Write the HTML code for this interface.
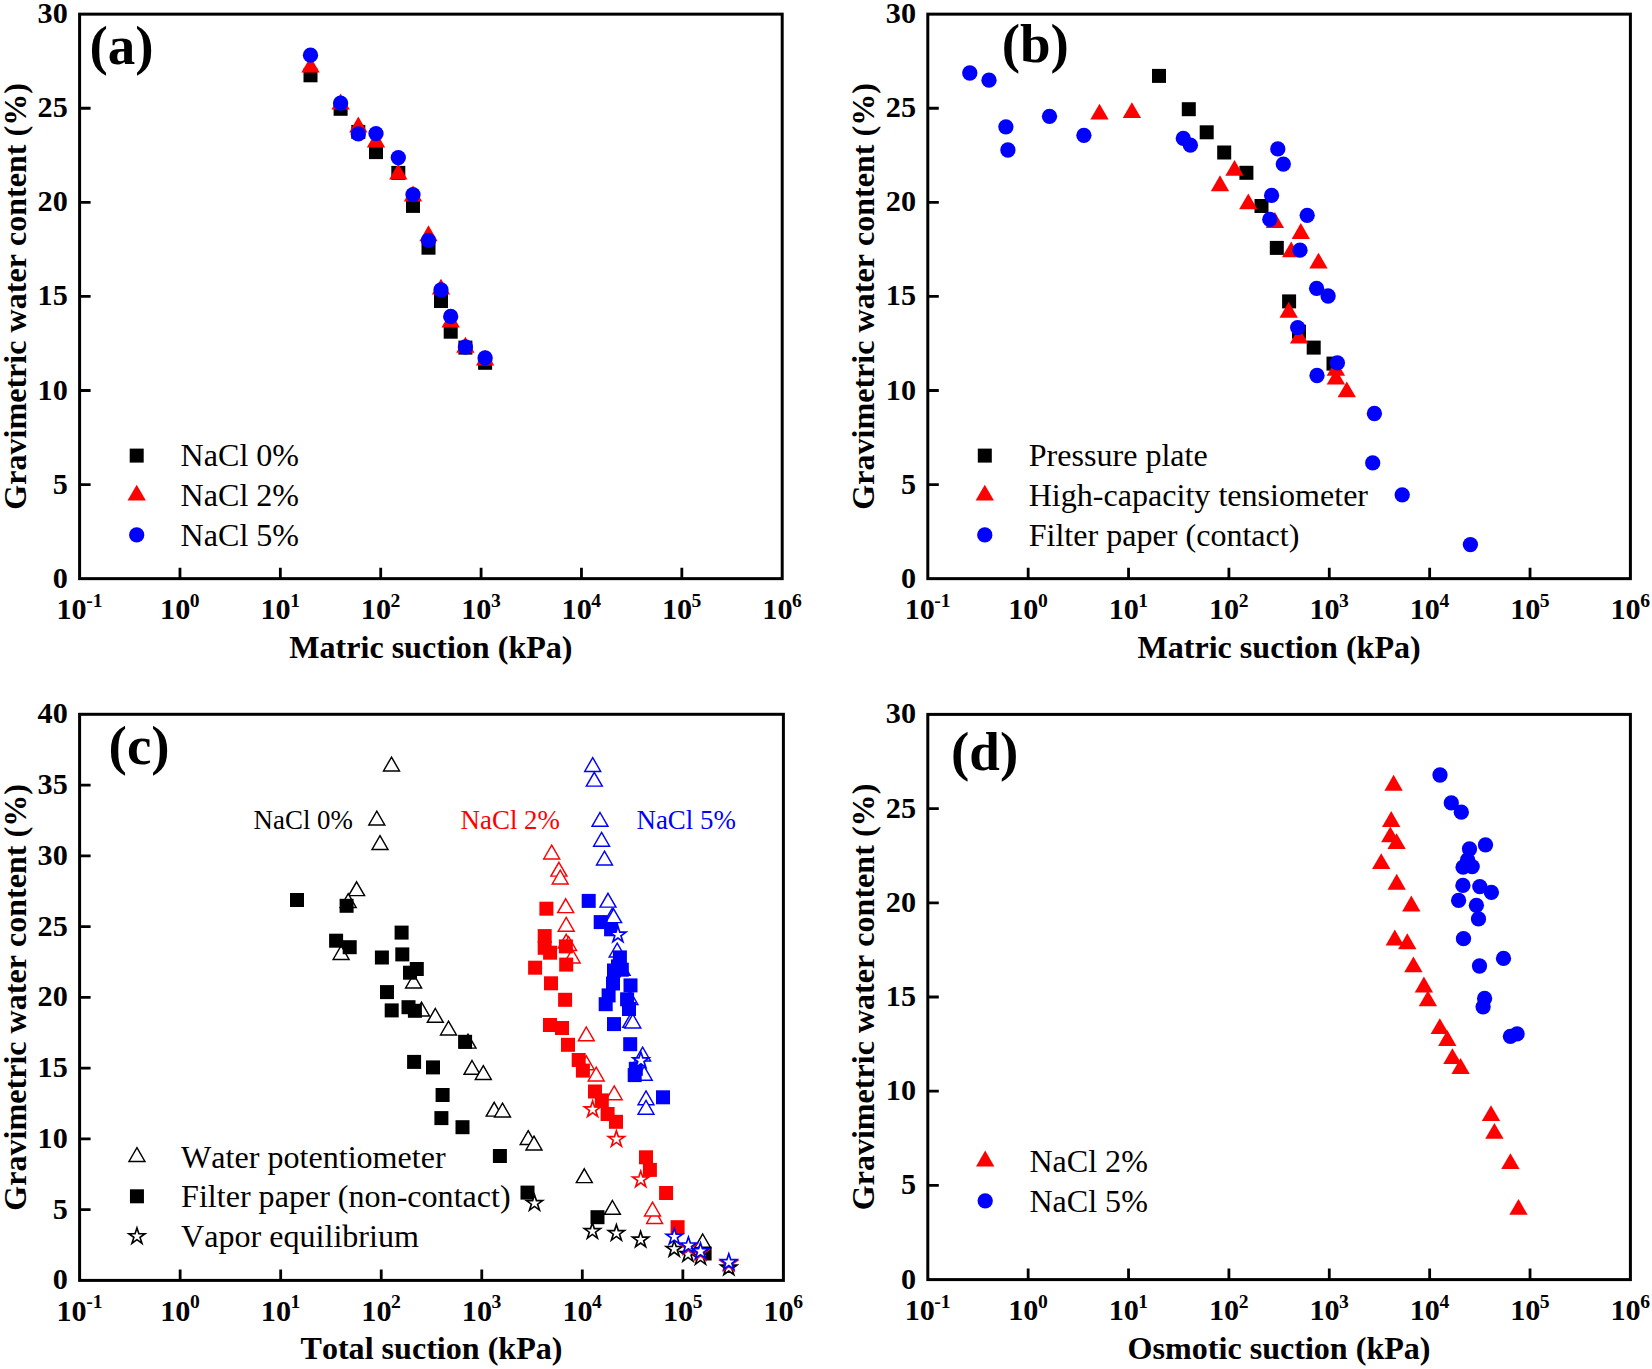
<!DOCTYPE html>
<html lang="en"><head><meta charset="utf-8"><title>Soil water retention curves</title>
<style>html,body{margin:0;padding:0;background:#fff}svg{display:block}text{font-family:'Liberation Serif', 'Times New Roman', serif;font-kerning:none}</style>
</head><body>
<svg width="1652" height="1369" viewBox="0 0 1652 1369">
<rect width="1652" height="1369" fill="#fff"/>
<g id="panel-a">
<rect x="303.5" y="68.3" width="14" height="14" fill="#000"/>
<rect x="333.6" y="101.8" width="14" height="14" fill="#000"/>
<rect x="351.3" y="124.9" width="14" height="14" fill="#000"/>
<rect x="369" y="145.1" width="14" height="14" fill="#000"/>
<rect x="391.3" y="165.9" width="14" height="14" fill="#000"/>
<rect x="406" y="198.9" width="14" height="14" fill="#000"/>
<rect x="421.5" y="240.7" width="14" height="14" fill="#000"/>
<rect x="434" y="294" width="14" height="14" fill="#000"/>
<rect x="443.7" y="324.7" width="14" height="14" fill="#000"/>
<rect x="458.4" y="340.6" width="14" height="14" fill="#000"/>
<rect x="478.1" y="355.8" width="14" height="14" fill="#000"/>
<polygon points="310.5,56.7 319.68,72.6 301.32,72.6" fill="#f00"/>
<polygon points="340.6,93.6 349.78,109.5 331.42,109.5" fill="#f00"/>
<polygon points="358.3,116.5 367.48,132.4 349.12,132.4" fill="#f00"/>
<polygon points="376,131.6 385.18,147.5 366.82,147.5" fill="#f00"/>
<polygon points="398.3,163.5 407.48,179.4 389.12,179.4" fill="#f00"/>
<polygon points="413,185.5 422.18,201.4 403.82,201.4" fill="#f00"/>
<polygon points="428.5,225.3 437.68,241.2 419.32,241.2" fill="#f00"/>
<polygon points="441,278.7 450.18,294.6 431.82,294.6" fill="#f00"/>
<polygon points="450.7,311.5 459.88,327.4 441.52,327.4" fill="#f00"/>
<polygon points="465.4,336.8 474.58,352.7 456.22,352.7" fill="#f00"/>
<polygon points="485.1,349.7 494.28,365.6 475.92,365.6" fill="#f00"/>
<circle cx="310.5" cy="55.15" r="7.65" fill="#00f"/>
<circle cx="340.6" cy="103.1" r="7.65" fill="#00f"/>
<circle cx="358.3" cy="133.9" r="7.65" fill="#00f"/>
<circle cx="376" cy="133.6" r="7.65" fill="#00f"/>
<circle cx="398.3" cy="157.6" r="7.65" fill="#00f"/>
<circle cx="413" cy="194.6" r="7.65" fill="#00f"/>
<circle cx="428.5" cy="240.4" r="7.65" fill="#00f"/>
<circle cx="441" cy="290" r="7.65" fill="#00f"/>
<circle cx="450.7" cy="316.5" r="7.65" fill="#00f"/>
<circle cx="465.4" cy="347" r="7.65" fill="#00f"/>
<circle cx="485.1" cy="357.9" r="7.65" fill="#00f"/>
<path d="M179.97 578.65V567.65M280.34 578.65V567.65M380.71 578.65V567.65M481.09 578.65V567.65M581.46 578.65V567.65M681.83 578.65V567.65M79.6 484.57H90.6M79.6 390.48H90.6M79.6 296.4H90.6M79.6 202.32H90.6M79.6 108.23H90.6" stroke="#000" stroke-width="2.8" fill="none"/>
<rect x="79.6" y="14.15" width="702.6" height="564.5" fill="none" stroke="#000" stroke-width="3"/>
<text x="67.8" y="587.7" font-size="30.2" font-weight="bold" text-anchor="end">0</text>
<text x="67.8" y="493.62" font-size="30.2" font-weight="bold" text-anchor="end">5</text>
<text x="67.8" y="399.53" font-size="30.2" font-weight="bold" text-anchor="end">10</text>
<text x="67.8" y="305.45" font-size="30.2" font-weight="bold" text-anchor="end">15</text>
<text x="67.8" y="211.37" font-size="30.2" font-weight="bold" text-anchor="end">20</text>
<text x="67.8" y="117.28" font-size="30.2" font-weight="bold" text-anchor="end">25</text>
<text x="67.8" y="23.2" font-size="30.2" font-weight="bold" text-anchor="end">30</text>
<text x="56.44" y="618.95" font-size="30.2" font-weight="bold">10<tspan font-size="19.6" dx="-0.5" dy="-12.3">-1</tspan></text>
<text x="160.07" y="618.95" font-size="30.2" font-weight="bold">10<tspan font-size="19.6" dx="-0.5" dy="-12.3">0</tspan></text>
<text x="260.44" y="618.95" font-size="30.2" font-weight="bold">10<tspan font-size="19.6" dx="-0.5" dy="-12.3">1</tspan></text>
<text x="360.81" y="618.95" font-size="30.2" font-weight="bold">10<tspan font-size="19.6" dx="-0.5" dy="-12.3">2</tspan></text>
<text x="461.19" y="618.95" font-size="30.2" font-weight="bold">10<tspan font-size="19.6" dx="-0.5" dy="-12.3">3</tspan></text>
<text x="561.56" y="618.95" font-size="30.2" font-weight="bold">10<tspan font-size="19.6" dx="-0.5" dy="-12.3">4</tspan></text>
<text x="661.93" y="618.95" font-size="30.2" font-weight="bold">10<tspan font-size="19.6" dx="-0.5" dy="-12.3">5</tspan></text>
<text x="762.3" y="618.95" font-size="30.2" font-weight="bold">10<tspan font-size="19.6" dx="-0.5" dy="-12.3">6</tspan></text>
<text x="430.9" y="657.55" font-size="32.1" font-weight="bold" text-anchor="middle">Matric suction (kPa)</text>
<text transform="translate(25.5 296.4) rotate(-90)" font-size="32.1" font-weight="bold" text-anchor="middle">Gravimetric water content (%)</text>
<text x="89.4" y="64.15" font-size="55" font-weight="bold">(a)</text>
<rect x="129.7" y="448.6" width="14" height="14" fill="#000"/>
<polygon points="136.7,484.7 145.88,500.6 127.52,500.6" fill="#f00"/>
<circle cx="136.7" cy="534.9" r="7.65" fill="#00f"/>
<text x="180.6" y="466.35" font-size="32.1">NaCl 0%</text>
<text x="180.6" y="506.05" font-size="32.1">NaCl 2%</text>
<text x="180.6" y="545.65" font-size="32.1">NaCl 5%</text>
</g>
<g id="panel-b">
<rect x="1152" y="68.9" width="14" height="14" fill="#000"/>
<rect x="1181.8" y="102.2" width="14" height="14" fill="#000"/>
<rect x="1199.7" y="125.3" width="14" height="14" fill="#000"/>
<rect x="1217.2" y="145.5" width="14" height="14" fill="#000"/>
<rect x="1239.4" y="165.8" width="14" height="14" fill="#000"/>
<rect x="1254.5" y="199" width="14" height="14" fill="#000"/>
<rect x="1269.8" y="240.9" width="14" height="14" fill="#000"/>
<rect x="1282.1" y="294.4" width="14" height="14" fill="#000"/>
<rect x="1292" y="324.7" width="14" height="14" fill="#000"/>
<rect x="1306.7" y="340.6" width="14" height="14" fill="#000"/>
<rect x="1326.5" y="356.6" width="14" height="14" fill="#000"/>
<polygon points="1099.5,103.7 1108.68,119.6 1090.32,119.6" fill="#f00"/>
<polygon points="1131.9,102.2 1141.08,118.1 1122.72,118.1" fill="#f00"/>
<polygon points="1234.5,159.9 1243.68,175.8 1225.32,175.8" fill="#f00"/>
<polygon points="1220,175.3 1229.18,191.2 1210.82,191.2" fill="#f00"/>
<polygon points="1248.3,193.4 1257.48,209.3 1239.12,209.3" fill="#f00"/>
<polygon points="1274.9,212.1 1284.08,228 1265.72,228" fill="#f00"/>
<polygon points="1300.8,223.1 1309.98,239 1291.62,239" fill="#f00"/>
<polygon points="1291.2,241.4 1300.38,257.3 1282.02,257.3" fill="#f00"/>
<polygon points="1318.5,252.7 1327.68,268.6 1309.32,268.6" fill="#f00"/>
<polygon points="1288.7,301.8 1297.88,317.7 1279.52,317.7" fill="#f00"/>
<polygon points="1299.1,327.7 1308.28,343.6 1289.92,343.6" fill="#f00"/>
<polygon points="1335.9,359.9 1345.08,375.8 1326.72,375.8" fill="#f00"/>
<polygon points="1335.9,368.7 1345.08,384.6 1326.72,384.6" fill="#f00"/>
<polygon points="1346.8,381.4 1355.98,397.3 1337.62,397.3" fill="#f00"/>
<circle cx="969.8" cy="73" r="7.65" fill="#00f"/>
<circle cx="989" cy="80.2" r="7.65" fill="#00f"/>
<circle cx="1005.9" cy="126.8" r="7.65" fill="#00f"/>
<circle cx="1007.9" cy="150" r="7.65" fill="#00f"/>
<circle cx="1049.5" cy="116.3" r="7.65" fill="#00f"/>
<circle cx="1083.9" cy="135.3" r="7.65" fill="#00f"/>
<circle cx="1183.3" cy="138.4" r="7.65" fill="#00f"/>
<circle cx="1190.4" cy="145.2" r="7.65" fill="#00f"/>
<circle cx="1277.8" cy="148.9" r="7.65" fill="#00f"/>
<circle cx="1283.3" cy="164.1" r="7.65" fill="#00f"/>
<circle cx="1271.6" cy="195.4" r="7.65" fill="#00f"/>
<circle cx="1269.8" cy="219.4" r="7.65" fill="#00f"/>
<circle cx="1307.2" cy="215.3" r="7.65" fill="#00f"/>
<circle cx="1300" cy="250.2" r="7.65" fill="#00f"/>
<circle cx="1316.6" cy="288.3" r="7.65" fill="#00f"/>
<circle cx="1328.1" cy="296" r="7.65" fill="#00f"/>
<circle cx="1297.7" cy="327.6" r="7.65" fill="#00f"/>
<circle cx="1337.4" cy="362.8" r="7.65" fill="#00f"/>
<circle cx="1317" cy="375.5" r="7.65" fill="#00f"/>
<circle cx="1374.4" cy="413.5" r="7.65" fill="#00f"/>
<circle cx="1372.7" cy="462.9" r="7.65" fill="#00f"/>
<circle cx="1402.2" cy="494.8" r="7.65" fill="#00f"/>
<circle cx="1470.4" cy="544.6" r="7.65" fill="#00f"/>
<path d="M1028.17 578.65V567.65M1128.54 578.65V567.65M1228.91 578.65V567.65M1329.29 578.65V567.65M1429.66 578.65V567.65M1530.03 578.65V567.65M927.8 484.57H938.8M927.8 390.48H938.8M927.8 296.4H938.8M927.8 202.32H938.8M927.8 108.23H938.8" stroke="#000" stroke-width="2.8" fill="none"/>
<rect x="927.8" y="14.15" width="702.6" height="564.5" fill="none" stroke="#000" stroke-width="3"/>
<text x="916" y="587.7" font-size="30.2" font-weight="bold" text-anchor="end">0</text>
<text x="916" y="493.62" font-size="30.2" font-weight="bold" text-anchor="end">5</text>
<text x="916" y="399.53" font-size="30.2" font-weight="bold" text-anchor="end">10</text>
<text x="916" y="305.45" font-size="30.2" font-weight="bold" text-anchor="end">15</text>
<text x="916" y="211.37" font-size="30.2" font-weight="bold" text-anchor="end">20</text>
<text x="916" y="117.28" font-size="30.2" font-weight="bold" text-anchor="end">25</text>
<text x="916" y="23.2" font-size="30.2" font-weight="bold" text-anchor="end">30</text>
<text x="904.64" y="618.95" font-size="30.2" font-weight="bold">10<tspan font-size="19.6" dx="-0.5" dy="-12.3">-1</tspan></text>
<text x="1008.27" y="618.95" font-size="30.2" font-weight="bold">10<tspan font-size="19.6" dx="-0.5" dy="-12.3">0</tspan></text>
<text x="1108.64" y="618.95" font-size="30.2" font-weight="bold">10<tspan font-size="19.6" dx="-0.5" dy="-12.3">1</tspan></text>
<text x="1209.01" y="618.95" font-size="30.2" font-weight="bold">10<tspan font-size="19.6" dx="-0.5" dy="-12.3">2</tspan></text>
<text x="1309.39" y="618.95" font-size="30.2" font-weight="bold">10<tspan font-size="19.6" dx="-0.5" dy="-12.3">3</tspan></text>
<text x="1409.76" y="618.95" font-size="30.2" font-weight="bold">10<tspan font-size="19.6" dx="-0.5" dy="-12.3">4</tspan></text>
<text x="1510.13" y="618.95" font-size="30.2" font-weight="bold">10<tspan font-size="19.6" dx="-0.5" dy="-12.3">5</tspan></text>
<text x="1610.5" y="618.95" font-size="30.2" font-weight="bold">10<tspan font-size="19.6" dx="-0.5" dy="-12.3">6</tspan></text>
<text x="1279.1" y="657.55" font-size="32.1" font-weight="bold" text-anchor="middle">Matric suction (kPa)</text>
<text transform="translate(873.7 296.4) rotate(-90)" font-size="32.1" font-weight="bold" text-anchor="middle">Gravimetric water content (%)</text>
<text x="1001.7" y="62.05" font-size="55" font-weight="bold">(b)</text>
<rect x="977.8" y="448.6" width="14" height="14" fill="#000"/>
<polygon points="984.8,484.7 993.98,500.6 975.62,500.6" fill="#f00"/>
<circle cx="984.8" cy="534.9" r="7.65" fill="#00f"/>
<text x="1028.7" y="466.35" font-size="32.1">Pressure plate</text>
<text x="1028.7" y="506.05" font-size="32.1">High-capacity tensiometer</text>
<text x="1028.7" y="545.65" font-size="32.1">Filter paper (contact)</text>
</g>
<g id="panel-c">
<polygon points="391.5,757.1 399.47,770.9 383.53,770.9" fill="#fff" stroke="#000" stroke-width="1.45" stroke-linejoin="miter"/>
<polygon points="376.8,811.2 384.77,825 368.83,825" fill="#fff" stroke="#000" stroke-width="1.45" stroke-linejoin="miter"/>
<polygon points="380,835.7 387.97,849.5 372.03,849.5" fill="#fff" stroke="#000" stroke-width="1.45" stroke-linejoin="miter"/>
<polygon points="356.6,881.8 364.57,895.6 348.63,895.6" fill="#fff" stroke="#000" stroke-width="1.45" stroke-linejoin="miter"/>
<polygon points="348.2,893.6 356.17,907.4 340.23,907.4" fill="#fff" stroke="#000" stroke-width="1.45" stroke-linejoin="miter"/>
<polygon points="341.1,945.7 349.07,959.5 333.13,959.5" fill="#fff" stroke="#000" stroke-width="1.45" stroke-linejoin="miter"/>
<polygon points="413.6,974.2 421.57,988 405.63,988" fill="#fff" stroke="#000" stroke-width="1.45" stroke-linejoin="miter"/>
<polygon points="421.5,1002.1 429.47,1015.9 413.53,1015.9" fill="#fff" stroke="#000" stroke-width="1.45" stroke-linejoin="miter"/>
<polygon points="435.3,1008.5 443.27,1022.3 427.33,1022.3" fill="#fff" stroke="#000" stroke-width="1.45" stroke-linejoin="miter"/>
<polygon points="448.5,1021.1 456.47,1034.9 440.53,1034.9" fill="#fff" stroke="#000" stroke-width="1.45" stroke-linejoin="miter"/>
<polygon points="468,1034.3 475.97,1048.1 460.03,1048.1" fill="#fff" stroke="#000" stroke-width="1.45" stroke-linejoin="miter"/>
<polygon points="472,1060.5 479.97,1074.3 464.03,1074.3" fill="#fff" stroke="#000" stroke-width="1.45" stroke-linejoin="miter"/>
<polygon points="483.3,1065.6 491.27,1079.4 475.33,1079.4" fill="#fff" stroke="#000" stroke-width="1.45" stroke-linejoin="miter"/>
<polygon points="494.2,1102.3 502.17,1116.1 486.23,1116.1" fill="#fff" stroke="#000" stroke-width="1.45" stroke-linejoin="miter"/>
<polygon points="502.5,1103.1 510.47,1116.9 494.53,1116.9" fill="#fff" stroke="#000" stroke-width="1.45" stroke-linejoin="miter"/>
<polygon points="528.2,1130.7 536.17,1144.5 520.23,1144.5" fill="#fff" stroke="#000" stroke-width="1.45" stroke-linejoin="miter"/>
<polygon points="534,1136.1 541.97,1149.9 526.03,1149.9" fill="#fff" stroke="#000" stroke-width="1.45" stroke-linejoin="miter"/>
<polygon points="584.3,1168.8 592.27,1182.6 576.33,1182.6" fill="#fff" stroke="#000" stroke-width="1.45" stroke-linejoin="miter"/>
<polygon points="612.4,1200.5 620.37,1214.3 604.43,1214.3" fill="#fff" stroke="#000" stroke-width="1.45" stroke-linejoin="miter"/>
<polygon points="702.7,1234 710.67,1247.8 694.73,1247.8" fill="#fff" stroke="#000" stroke-width="1.45" stroke-linejoin="miter"/>
<rect x="290" y="893" width="14" height="14" fill="#000"/>
<rect x="339.6" y="898.8" width="14" height="14" fill="#000"/>
<rect x="394.6" y="925.6" width="14" height="14" fill="#000"/>
<rect x="329.1" y="933.7" width="14" height="14" fill="#000"/>
<rect x="342.7" y="940.2" width="14" height="14" fill="#000"/>
<rect x="374.9" y="950.5" width="14" height="14" fill="#000"/>
<rect x="395.3" y="947.4" width="14" height="14" fill="#000"/>
<rect x="409.8" y="962" width="14" height="14" fill="#000"/>
<rect x="403" y="965.7" width="14" height="14" fill="#000"/>
<rect x="380" y="985.1" width="14" height="14" fill="#000"/>
<rect x="384.7" y="1003.4" width="14" height="14" fill="#000"/>
<rect x="401.5" y="1000.2" width="14" height="14" fill="#000"/>
<rect x="407.9" y="1003.8" width="14" height="14" fill="#000"/>
<rect x="458.1" y="1034.8" width="14" height="14" fill="#000"/>
<rect x="407.1" y="1054.9" width="14" height="14" fill="#000"/>
<rect x="426" y="1060.4" width="14" height="14" fill="#000"/>
<rect x="435.6" y="1088" width="14" height="14" fill="#000"/>
<rect x="434.4" y="1111.1" width="14" height="14" fill="#000"/>
<rect x="455.5" y="1120.2" width="14" height="14" fill="#000"/>
<rect x="492.9" y="1149" width="14" height="14" fill="#000"/>
<rect x="520.5" y="1185.6" width="14" height="14" fill="#000"/>
<rect x="590.5" y="1210.2" width="14" height="14" fill="#000"/>
<rect x="697.6" y="1246.5" width="14" height="14" fill="#000"/>
<polygon points="534.5,1194.7 536.41,1200.57 542.58,1200.57 537.59,1204.2 539.5,1210.08 534.5,1206.45 529.5,1210.08 531.41,1204.2 526.42,1200.57 532.59,1200.57" fill="#fff" stroke="#000" stroke-width="1.65" stroke-linejoin="miter" stroke-miterlimit="10"/>
<polygon points="592.4,1222.7 594.31,1228.57 600.48,1228.57 595.49,1232.2 597.4,1238.08 592.4,1234.45 587.4,1238.08 589.31,1232.2 584.32,1228.57 590.49,1228.57" fill="#fff" stroke="#000" stroke-width="1.65" stroke-linejoin="miter" stroke-miterlimit="10"/>
<polygon points="616.4,1224.7 618.31,1230.57 624.48,1230.57 619.49,1234.2 621.4,1240.08 616.4,1236.45 611.4,1240.08 613.31,1234.2 608.32,1230.57 614.49,1230.57" fill="#fff" stroke="#000" stroke-width="1.65" stroke-linejoin="miter" stroke-miterlimit="10"/>
<polygon points="640.6,1231.3 642.51,1237.17 648.68,1237.17 643.69,1240.8 645.6,1246.68 640.6,1243.05 635.6,1246.68 637.51,1240.8 632.52,1237.17 638.69,1237.17" fill="#fff" stroke="#000" stroke-width="1.65" stroke-linejoin="miter" stroke-miterlimit="10"/>
<polygon points="674.2,1240.6 676.11,1246.47 682.28,1246.47 677.29,1250.1 679.2,1255.98 674.2,1252.35 669.2,1255.98 671.11,1250.1 666.12,1246.47 672.29,1246.47" fill="#fff" stroke="#000" stroke-width="1.65" stroke-linejoin="miter" stroke-miterlimit="10"/>
<polygon points="688,1245.7 689.91,1251.57 696.08,1251.57 691.09,1255.2 693,1261.08 688,1257.45 683,1261.08 684.91,1255.2 679.92,1251.57 686.09,1251.57" fill="#fff" stroke="#000" stroke-width="1.65" stroke-linejoin="miter" stroke-miterlimit="10"/>
<polygon points="700.5,1248.7 702.41,1254.57 708.58,1254.57 703.59,1258.2 705.5,1264.08 700.5,1260.45 695.5,1264.08 697.41,1258.2 692.42,1254.57 698.59,1254.57" fill="#fff" stroke="#000" stroke-width="1.65" stroke-linejoin="miter" stroke-miterlimit="10"/>
<polygon points="728.8,1259.3 730.71,1265.17 736.88,1265.17 731.89,1268.8 733.8,1274.68 728.8,1271.05 723.8,1274.68 725.71,1268.8 720.72,1265.17 726.89,1265.17" fill="#fff" stroke="#000" stroke-width="1.65" stroke-linejoin="miter" stroke-miterlimit="10"/>
<polygon points="551.7,845.2 559.67,859 543.73,859" fill="#fff" stroke="#f00" stroke-width="1.45" stroke-linejoin="miter"/>
<polygon points="558.9,862.3 566.87,876.1 550.93,876.1" fill="#fff" stroke="#f00" stroke-width="1.45" stroke-linejoin="miter"/>
<polygon points="560.2,870.2 568.17,884 552.23,884" fill="#fff" stroke="#f00" stroke-width="1.45" stroke-linejoin="miter"/>
<polygon points="565.7,898.8 573.67,912.6 557.73,912.6" fill="#fff" stroke="#f00" stroke-width="1.45" stroke-linejoin="miter"/>
<polygon points="566.2,917.4 574.17,931.2 558.23,931.2" fill="#fff" stroke="#f00" stroke-width="1.45" stroke-linejoin="miter"/>
<polygon points="566.2,934.3 574.17,948.1 558.23,948.1" fill="#fff" stroke="#f00" stroke-width="1.45" stroke-linejoin="miter"/>
<polygon points="568.6,936.6 576.57,950.4 560.63,950.4" fill="#fff" stroke="#f00" stroke-width="1.45" stroke-linejoin="miter"/>
<polygon points="572.2,949.2 580.17,963 564.23,963" fill="#fff" stroke="#f00" stroke-width="1.45" stroke-linejoin="miter"/>
<polygon points="586.3,1027 594.27,1040.8 578.33,1040.8" fill="#fff" stroke="#f00" stroke-width="1.45" stroke-linejoin="miter"/>
<polygon points="586.3,1055.9 594.27,1069.7 578.33,1069.7" fill="#fff" stroke="#f00" stroke-width="1.45" stroke-linejoin="miter"/>
<polygon points="596.2,1067.2 604.17,1081 588.23,1081" fill="#fff" stroke="#f00" stroke-width="1.45" stroke-linejoin="miter"/>
<polygon points="614.2,1085.9 622.17,1099.7 606.23,1099.7" fill="#fff" stroke="#f00" stroke-width="1.45" stroke-linejoin="miter"/>
<polygon points="654.6,1209.7 662.57,1223.5 646.63,1223.5" fill="#fff" stroke="#f00" stroke-width="1.45" stroke-linejoin="miter"/>
<polygon points="652.5,1202.2 660.47,1216 644.53,1216" fill="#fff" stroke="#f00" stroke-width="1.45" stroke-linejoin="miter"/>
<rect x="539.4" y="901.7" width="14" height="14" fill="#f00"/>
<rect x="537.7" y="929.1" width="14" height="14" fill="#f00"/>
<rect x="537.7" y="940.8" width="14" height="14" fill="#f00"/>
<rect x="543.1" y="945.7" width="14" height="14" fill="#f00"/>
<rect x="558.9" y="939.4" width="14" height="14" fill="#f00"/>
<rect x="528.1" y="960.7" width="14" height="14" fill="#f00"/>
<rect x="559.2" y="957.6" width="14" height="14" fill="#f00"/>
<rect x="544" y="976.3" width="14" height="14" fill="#f00"/>
<rect x="558.1" y="992.8" width="14" height="14" fill="#f00"/>
<rect x="543" y="1018" width="14" height="14" fill="#f00"/>
<rect x="555" y="1021" width="14" height="14" fill="#f00"/>
<rect x="561" y="1037.8" width="14" height="14" fill="#f00"/>
<rect x="571.7" y="1053" width="14" height="14" fill="#f00"/>
<rect x="575.9" y="1063.6" width="14" height="14" fill="#f00"/>
<rect x="588" y="1084.5" width="14" height="14" fill="#f00"/>
<rect x="600.6" y="1107" width="14" height="14" fill="#f00"/>
<rect x="609" y="1114.8" width="14" height="14" fill="#f00"/>
<rect x="639" y="1150.3" width="14" height="14" fill="#f00"/>
<rect x="642.9" y="1162.9" width="14" height="14" fill="#f00"/>
<rect x="659.1" y="1186" width="14" height="14" fill="#f00"/>
<rect x="670.6" y="1220.2" width="14" height="14" fill="#f00"/>
<polygon points="592.6,1101 594.51,1106.87 600.68,1106.87 595.69,1110.5 597.6,1116.38 592.6,1112.75 587.6,1116.38 589.51,1110.5 584.52,1106.87 590.69,1106.87" fill="#fff" stroke="#f00" stroke-width="1.65" stroke-linejoin="miter" stroke-miterlimit="10"/>
<polygon points="616.4,1130.7 618.31,1136.57 624.48,1136.57 619.49,1140.2 621.4,1146.08 616.4,1142.45 611.4,1146.08 613.31,1140.2 608.32,1136.57 614.49,1136.57" fill="#fff" stroke="#f00" stroke-width="1.65" stroke-linejoin="miter" stroke-miterlimit="10"/>
<polygon points="640.7,1171.1 642.61,1176.97 648.78,1176.97 643.79,1180.6 645.7,1186.48 640.7,1182.85 635.7,1186.48 637.61,1180.6 632.62,1176.97 638.79,1176.97" fill="#fff" stroke="#f00" stroke-width="1.65" stroke-linejoin="miter" stroke-miterlimit="10"/>
<polygon points="688.4,1238.5 690.31,1244.37 696.48,1244.37 691.49,1248 693.4,1253.88 688.4,1250.25 683.4,1253.88 685.31,1248 680.32,1244.37 686.49,1244.37" fill="#fff" stroke="#f00" stroke-width="1.65" stroke-linejoin="miter" stroke-miterlimit="10"/>
<polygon points="700.5,1244.2 702.41,1250.07 708.58,1250.07 703.59,1253.7 705.5,1259.58 700.5,1255.95 695.5,1259.58 697.41,1253.7 692.42,1250.07 698.59,1250.07" fill="#fff" stroke="#f00" stroke-width="1.65" stroke-linejoin="miter" stroke-miterlimit="10"/>
<polygon points="728.8,1254.9 730.71,1260.77 736.88,1260.77 731.89,1264.4 733.8,1270.28 728.8,1266.65 723.8,1270.28 725.71,1264.4 720.72,1260.77 726.89,1260.77" fill="#fff" stroke="#f00" stroke-width="1.65" stroke-linejoin="miter" stroke-miterlimit="10"/>
<rect x="594.8" y="1093.4" width="14" height="14" fill="#f00"/>
<polygon points="592.7,757.6 600.67,771.4 584.73,771.4" fill="#fff" stroke="#00f" stroke-width="1.45" stroke-linejoin="miter"/>
<polygon points="594.3,772.3 602.27,786.1 586.33,786.1" fill="#fff" stroke="#00f" stroke-width="1.45" stroke-linejoin="miter"/>
<polygon points="600,812.5 607.97,826.3 592.03,826.3" fill="#fff" stroke="#00f" stroke-width="1.45" stroke-linejoin="miter"/>
<polygon points="601.6,832.4 609.57,846.2 593.63,846.2" fill="#fff" stroke="#00f" stroke-width="1.45" stroke-linejoin="miter"/>
<polygon points="604.5,851.2 612.47,865 596.53,865" fill="#fff" stroke="#00f" stroke-width="1.45" stroke-linejoin="miter"/>
<polygon points="608,893.3 615.97,907.1 600.03,907.1" fill="#fff" stroke="#00f" stroke-width="1.45" stroke-linejoin="miter"/>
<polygon points="612.1,908.5 620.07,922.3 604.13,922.3" fill="#fff" stroke="#00f" stroke-width="1.45" stroke-linejoin="miter"/>
<polygon points="613.6,908.8 621.57,922.6 605.63,922.6" fill="#fff" stroke="#00f" stroke-width="1.45" stroke-linejoin="miter"/>
<polygon points="617.2,943.1 625.17,956.9 609.23,956.9" fill="#fff" stroke="#00f" stroke-width="1.45" stroke-linejoin="miter"/>
<polygon points="622.1,961.5 630.07,975.3 614.13,975.3" fill="#fff" stroke="#00f" stroke-width="1.45" stroke-linejoin="miter"/>
<polygon points="629.9,990.6 637.87,1004.4 621.93,1004.4" fill="#fff" stroke="#00f" stroke-width="1.45" stroke-linejoin="miter"/>
<polygon points="630.8,1013.5 638.77,1027.3 622.83,1027.3" fill="#fff" stroke="#00f" stroke-width="1.45" stroke-linejoin="miter"/>
<polygon points="632.8,1014.1 640.77,1027.9 624.83,1027.9" fill="#fff" stroke="#00f" stroke-width="1.45" stroke-linejoin="miter"/>
<polygon points="642.6,1047.2 650.57,1061 634.63,1061" fill="#fff" stroke="#00f" stroke-width="1.45" stroke-linejoin="miter"/>
<polygon points="644.2,1066.4 652.17,1080.2 636.23,1080.2" fill="#fff" stroke="#00f" stroke-width="1.45" stroke-linejoin="miter"/>
<polygon points="646,1090.9 653.97,1104.7 638.03,1104.7" fill="#fff" stroke="#00f" stroke-width="1.45" stroke-linejoin="miter"/>
<polygon points="646,1100.4 653.97,1114.2 638.03,1114.2" fill="#fff" stroke="#00f" stroke-width="1.45" stroke-linejoin="miter"/>
<rect x="581.7" y="893.9" width="14" height="14" fill="#00f"/>
<rect x="593.7" y="915.1" width="14" height="14" fill="#00f"/>
<rect x="604.1" y="922.3" width="14" height="14" fill="#00f"/>
<rect x="612.9" y="950.4" width="14" height="14" fill="#00f"/>
<rect x="611" y="959.4" width="14" height="14" fill="#00f"/>
<rect x="607" y="963.5" width="14" height="14" fill="#00f"/>
<rect x="614.8" y="962.7" width="14" height="14" fill="#00f"/>
<rect x="606" y="976.5" width="14" height="14" fill="#00f"/>
<rect x="623.5" y="978.4" width="14" height="14" fill="#00f"/>
<rect x="601.6" y="988.4" width="14" height="14" fill="#00f"/>
<rect x="598.7" y="997.2" width="14" height="14" fill="#00f"/>
<rect x="620.1" y="992.3" width="14" height="14" fill="#00f"/>
<rect x="622" y="1002" width="14" height="14" fill="#00f"/>
<rect x="607" y="1017.1" width="14" height="14" fill="#00f"/>
<rect x="623.2" y="1037.2" width="14" height="14" fill="#00f"/>
<rect x="628.8" y="1061.8" width="14" height="14" fill="#00f"/>
<rect x="627.7" y="1068.1" width="14" height="14" fill="#00f"/>
<rect x="656" y="1090.3" width="14" height="14" fill="#00f"/>
<polygon points="617.9,926.3 619.81,932.17 625.98,932.17 620.99,935.8 622.9,941.68 617.9,938.05 612.9,941.68 614.81,935.8 609.82,932.17 615.99,932.17" fill="#fff" stroke="#00f" stroke-width="1.65" stroke-linejoin="miter" stroke-miterlimit="10"/>
<polygon points="640.9,1052 642.81,1057.87 648.98,1057.87 643.99,1061.5 645.9,1067.38 640.9,1063.75 635.9,1067.38 637.81,1061.5 632.82,1057.87 638.99,1057.87" fill="#fff" stroke="#00f" stroke-width="1.65" stroke-linejoin="miter" stroke-miterlimit="10"/>
<polygon points="674.3,1228.4 676.21,1234.27 682.38,1234.27 677.39,1237.9 679.3,1243.78 674.3,1240.15 669.3,1243.78 671.21,1237.9 666.22,1234.27 672.39,1234.27" fill="#fff" stroke="#00f" stroke-width="1.65" stroke-linejoin="miter" stroke-miterlimit="10"/>
<polygon points="688.4,1237.1 690.31,1242.97 696.48,1242.97 691.49,1246.6 693.4,1252.48 688.4,1248.85 683.4,1252.48 685.31,1246.6 680.32,1242.97 686.49,1242.97" fill="#fff" stroke="#00f" stroke-width="1.65" stroke-linejoin="miter" stroke-miterlimit="10"/>
<polygon points="700.5,1242.9 702.41,1248.77 708.58,1248.77 703.59,1252.4 705.5,1258.28 700.5,1254.65 695.5,1258.28 697.41,1252.4 692.42,1248.77 698.59,1248.77" fill="#fff" stroke="#00f" stroke-width="1.65" stroke-linejoin="miter" stroke-miterlimit="10"/>
<polygon points="728.8,1253.8 730.71,1259.67 736.88,1259.67 731.89,1263.3 733.8,1269.18 728.8,1265.55 723.8,1269.18 725.71,1263.3 720.72,1259.67 726.89,1259.67" fill="#fff" stroke="#00f" stroke-width="1.65" stroke-linejoin="miter" stroke-miterlimit="10"/>
<path d="M180.14 1280.4V1269.4M280.69 1280.4V1269.4M381.23 1280.4V1269.4M481.77 1280.4V1269.4M582.31 1280.4V1269.4M682.86 1280.4V1269.4M79.6 1209.64H90.6M79.6 1138.88H90.6M79.6 1068.11H90.6M79.6 997.35H90.6M79.6 926.59H90.6M79.6 855.83H90.6M79.6 785.06H90.6" stroke="#000" stroke-width="2.8" fill="none"/>
<rect x="79.6" y="714.3" width="703.8" height="566.1" fill="none" stroke="#000" stroke-width="3"/>
<text x="67.8" y="1289.45" font-size="30.2" font-weight="bold" text-anchor="end">0</text>
<text x="67.8" y="1218.69" font-size="30.2" font-weight="bold" text-anchor="end">5</text>
<text x="67.8" y="1147.92" font-size="30.2" font-weight="bold" text-anchor="end">10</text>
<text x="67.8" y="1077.16" font-size="30.2" font-weight="bold" text-anchor="end">15</text>
<text x="67.8" y="1006.4" font-size="30.2" font-weight="bold" text-anchor="end">20</text>
<text x="67.8" y="935.64" font-size="30.2" font-weight="bold" text-anchor="end">25</text>
<text x="67.8" y="864.88" font-size="30.2" font-weight="bold" text-anchor="end">30</text>
<text x="67.8" y="794.11" font-size="30.2" font-weight="bold" text-anchor="end">35</text>
<text x="67.8" y="723.35" font-size="30.2" font-weight="bold" text-anchor="end">40</text>
<text x="56.44" y="1320.7" font-size="30.2" font-weight="bold">10<tspan font-size="19.6" dx="-0.5" dy="-12.3">-1</tspan></text>
<text x="160.24" y="1320.7" font-size="30.2" font-weight="bold">10<tspan font-size="19.6" dx="-0.5" dy="-12.3">0</tspan></text>
<text x="260.79" y="1320.7" font-size="30.2" font-weight="bold">10<tspan font-size="19.6" dx="-0.5" dy="-12.3">1</tspan></text>
<text x="361.33" y="1320.7" font-size="30.2" font-weight="bold">10<tspan font-size="19.6" dx="-0.5" dy="-12.3">2</tspan></text>
<text x="461.87" y="1320.7" font-size="30.2" font-weight="bold">10<tspan font-size="19.6" dx="-0.5" dy="-12.3">3</tspan></text>
<text x="562.41" y="1320.7" font-size="30.2" font-weight="bold">10<tspan font-size="19.6" dx="-0.5" dy="-12.3">4</tspan></text>
<text x="662.96" y="1320.7" font-size="30.2" font-weight="bold">10<tspan font-size="19.6" dx="-0.5" dy="-12.3">5</tspan></text>
<text x="763.5" y="1320.7" font-size="30.2" font-weight="bold">10<tspan font-size="19.6" dx="-0.5" dy="-12.3">6</tspan></text>
<text x="431.5" y="1359.3" font-size="32.1" font-weight="bold" text-anchor="middle">Total suction (kPa)</text>
<text transform="translate(25.5 997.35) rotate(-90)" font-size="32.1" font-weight="bold" text-anchor="middle">Gravimetric water content (%)</text>
<text x="108.6" y="763.9" font-size="55" font-weight="bold">(c)</text>
<text x="253.6" y="828.6" font-size="26.9">NaCl 0%</text>
<text x="460.6" y="828.6" font-size="26.9" fill="#f00">NaCl 2%</text>
<text x="636.5" y="828.6" font-size="26.9" fill="#00f">NaCl 5%</text>
<polygon points="136.95,1147.6 144.92,1161.4 128.98,1161.4" fill="#fff" stroke="#000" stroke-width="1.45" stroke-linejoin="miter"/>
<rect x="129.95" y="1189.3" width="14" height="14" fill="#000"/>
<polygon points="136.95,1227.9 138.86,1233.77 145.03,1233.77 140.04,1237.4 141.95,1243.28 136.95,1239.65 131.95,1243.28 133.86,1237.4 128.87,1233.77 135.04,1233.77" fill="#fff" stroke="#000" stroke-width="1.65" stroke-linejoin="miter" stroke-miterlimit="10"/>
<text x="181.1" y="1167.7" font-size="32.1">Water potentiometer</text>
<text x="181.1" y="1207.2" font-size="32.1">Filter paper (non-contact)</text>
<text x="181.1" y="1247.3" font-size="32.1">Vapor equilibrium</text>
</g>
<g id="panel-d">
<polygon points="1393.6,774.8 1402.78,790.7 1384.42,790.7" fill="#f00"/>
<polygon points="1391.2,811 1400.38,826.9 1382.02,826.9" fill="#f00"/>
<polygon points="1390.3,826.4 1399.48,842.3 1381.12,842.3" fill="#f00"/>
<polygon points="1396.6,833.2 1405.78,849.1 1387.42,849.1" fill="#f00"/>
<polygon points="1381.2,853.2 1390.38,869.1 1372.02,869.1" fill="#f00"/>
<polygon points="1396.7,873.8 1405.88,889.7 1387.52,889.7" fill="#f00"/>
<polygon points="1411.3,895.6 1420.48,911.5 1402.12,911.5" fill="#f00"/>
<polygon points="1394.8,929.5 1403.98,945.4 1385.62,945.4" fill="#f00"/>
<polygon points="1407.3,933.3 1416.48,949.2 1398.12,949.2" fill="#f00"/>
<polygon points="1413.4,956.4 1422.58,972.3 1404.22,972.3" fill="#f00"/>
<polygon points="1423.9,976.5 1433.08,992.4 1414.72,992.4" fill="#f00"/>
<polygon points="1427.9,990.4 1437.08,1006.3 1418.72,1006.3" fill="#f00"/>
<polygon points="1439.8,1018.2 1448.98,1034.1 1430.62,1034.1" fill="#f00"/>
<polygon points="1447.3,1030 1456.48,1045.9 1438.12,1045.9" fill="#f00"/>
<polygon points="1452.4,1048.2 1461.58,1064.1 1443.22,1064.1" fill="#f00"/>
<polygon points="1460.6,1058.1 1469.78,1074 1451.42,1074" fill="#f00"/>
<polygon points="1491,1105.2 1500.18,1121.1 1481.82,1121.1" fill="#f00"/>
<polygon points="1494.4,1122.9 1503.58,1138.8 1485.22,1138.8" fill="#f00"/>
<polygon points="1510.4,1153.2 1519.58,1169.1 1501.22,1169.1" fill="#f00"/>
<polygon points="1518.5,1198.9 1527.68,1214.8 1509.32,1214.8" fill="#f00"/>
<circle cx="1440" cy="775" r="7.65" fill="#00f"/>
<circle cx="1451.3" cy="802.9" r="7.65" fill="#00f"/>
<circle cx="1461.3" cy="812.2" r="7.65" fill="#00f"/>
<circle cx="1485.5" cy="844.8" r="7.65" fill="#00f"/>
<circle cx="1469.5" cy="849" r="7.65" fill="#00f"/>
<circle cx="1467.6" cy="859.9" r="7.65" fill="#00f"/>
<circle cx="1463.1" cy="867.2" r="7.65" fill="#00f"/>
<circle cx="1472.2" cy="866.6" r="7.65" fill="#00f"/>
<circle cx="1462.9" cy="885.4" r="7.65" fill="#00f"/>
<circle cx="1479.8" cy="886.6" r="7.65" fill="#00f"/>
<circle cx="1491.4" cy="892.4" r="7.65" fill="#00f"/>
<circle cx="1458.6" cy="900.4" r="7.65" fill="#00f"/>
<circle cx="1476.4" cy="905.3" r="7.65" fill="#00f"/>
<circle cx="1478.5" cy="918.9" r="7.65" fill="#00f"/>
<circle cx="1463.5" cy="938.7" r="7.65" fill="#00f"/>
<circle cx="1503.5" cy="958.4" r="7.65" fill="#00f"/>
<circle cx="1479.5" cy="966" r="7.65" fill="#00f"/>
<circle cx="1484.6" cy="998.5" r="7.65" fill="#00f"/>
<circle cx="1483.1" cy="1006.8" r="7.65" fill="#00f"/>
<circle cx="1517.1" cy="1033.9" r="7.65" fill="#00f"/>
<circle cx="1510.4" cy="1036.3" r="7.65" fill="#00f"/>
<path d="M1028.17 1279.6V1268.6M1128.54 1279.6V1268.6M1228.91 1279.6V1268.6M1329.29 1279.6V1268.6M1429.66 1279.6V1268.6M1530.03 1279.6V1268.6M927.8 1185.4H938.8M927.8 1091.2H938.8M927.8 997H938.8M927.8 902.8H938.8M927.8 808.6H938.8" stroke="#000" stroke-width="2.8" fill="none"/>
<rect x="927.8" y="714.4" width="702.6" height="565.2" fill="none" stroke="#000" stroke-width="3"/>
<text x="916" y="1288.65" font-size="30.2" font-weight="bold" text-anchor="end">0</text>
<text x="916" y="1194.45" font-size="30.2" font-weight="bold" text-anchor="end">5</text>
<text x="916" y="1100.25" font-size="30.2" font-weight="bold" text-anchor="end">10</text>
<text x="916" y="1006.05" font-size="30.2" font-weight="bold" text-anchor="end">15</text>
<text x="916" y="911.85" font-size="30.2" font-weight="bold" text-anchor="end">20</text>
<text x="916" y="817.65" font-size="30.2" font-weight="bold" text-anchor="end">25</text>
<text x="916" y="723.45" font-size="30.2" font-weight="bold" text-anchor="end">30</text>
<text x="904.64" y="1319.9" font-size="30.2" font-weight="bold">10<tspan font-size="19.6" dx="-0.5" dy="-12.3">-1</tspan></text>
<text x="1008.27" y="1319.9" font-size="30.2" font-weight="bold">10<tspan font-size="19.6" dx="-0.5" dy="-12.3">0</tspan></text>
<text x="1108.64" y="1319.9" font-size="30.2" font-weight="bold">10<tspan font-size="19.6" dx="-0.5" dy="-12.3">1</tspan></text>
<text x="1209.01" y="1319.9" font-size="30.2" font-weight="bold">10<tspan font-size="19.6" dx="-0.5" dy="-12.3">2</tspan></text>
<text x="1309.39" y="1319.9" font-size="30.2" font-weight="bold">10<tspan font-size="19.6" dx="-0.5" dy="-12.3">3</tspan></text>
<text x="1409.76" y="1319.9" font-size="30.2" font-weight="bold">10<tspan font-size="19.6" dx="-0.5" dy="-12.3">4</tspan></text>
<text x="1510.13" y="1319.9" font-size="30.2" font-weight="bold">10<tspan font-size="19.6" dx="-0.5" dy="-12.3">5</tspan></text>
<text x="1610.5" y="1319.9" font-size="30.2" font-weight="bold">10<tspan font-size="19.6" dx="-0.5" dy="-12.3">6</tspan></text>
<text x="1279.1" y="1358.5" font-size="32.1" font-weight="bold" text-anchor="middle">Osmotic suction (kPa)</text>
<text transform="translate(873.7 997) rotate(-90)" font-size="32.1" font-weight="bold" text-anchor="middle">Gravimetric water content (%)</text>
<text x="951" y="769.7" font-size="55" font-weight="bold">(d)</text>
<polygon points="985.2,1150.6 994.38,1166.5 976.02,1166.5" fill="#f00"/>
<circle cx="985.2" cy="1200.8" r="7.65" fill="#00f"/>
<text x="1029.4" y="1172.1" font-size="32.1">NaCl 2%</text>
<text x="1029.4" y="1211.7" font-size="32.1">NaCl 5%</text>
</g>
</svg>
</body></html>
